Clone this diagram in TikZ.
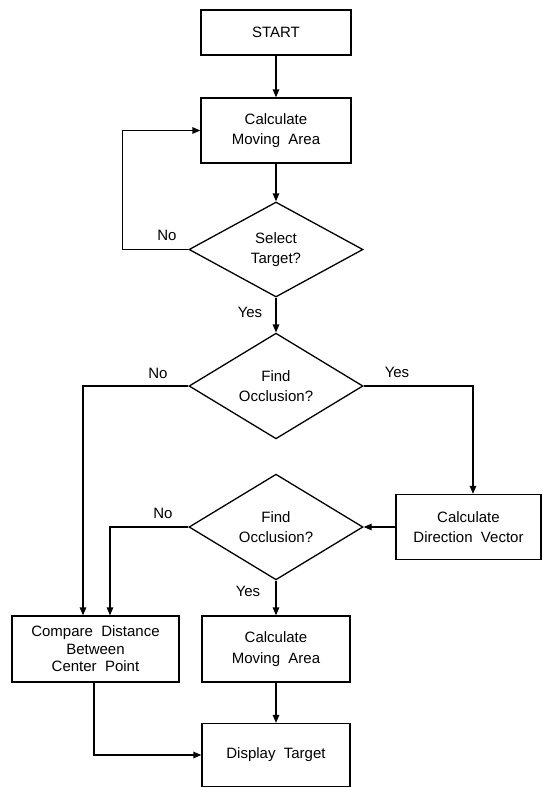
\documentclass[tikz,border=0pt]{standalone}
\usepackage{fontspec}
\setmainfont{Liberation Sans}
\usetikzlibrary{shapes.geometric,arrows.meta}

\begin{document}
\begin{tikzpicture}[x=1pt,y=-1pt,
  every node/.style={font=\fontsize{15}{20.5}\selectfont},
  box/.style={draw,line width=1.3pt,align=center,inner sep=0pt},
  decision/.style={draw,diamond,line width=1.3pt,align=center,inner sep=0pt,
    minimum width=174pt,minimum height=95pt},
  flow/.style={line width=1.3pt,-{Triangle[length=8pt,width=6.5pt]}},
  tag/.style={inner sep=0pt}]

\useasboundingbox (0,0) rectangle (543,788);

% boxes
\node[box,minimum width=150pt,minimum height=45pt] (start) at (276,32.5) {START};
\node[box,minimum width=150pt,minimum height=65pt] (cma1) at (276,130.5) {Calculate\\Moving~~Area};
\node[decision] (sel) at (276,249.5) {Select\\Target?};
\node[decision] (occ1) at (276,386) {Find\\Occlusion?};
\node[box,minimum width=145pt,minimum height=65pt] (dir) at (468.5,527) {Calculate\\Direction~~Vector};
\node[decision] (occ2) at (276,527) {Find\\Occlusion?};
\node[box,minimum width=167pt,minimum height=66pt,
  font=\fontsize{15}{17.5}\selectfont] (cmp) at (95.5,649) {Compare~~Distance\\Between\\Center~~Point};
\node[box,minimum width=148pt,minimum height=66pt] (cma2) at (276,649) {Calculate\\Moving~~Area};
\node[box,minimum width=148pt,minimum height=63pt] (disp) at (276,755) {Display~~Target};

% labels
\node[tag] (no1) at (167,235) {No};
\node[tag] (yes1) at (250,312) {Yes};
\node[tag] (no2) at (158,373) {No};
\node[tag] (yes2) at (397,372) {Yes};
\node[tag] (no3) at (163,513) {No};
\node[tag] (yes3) at (248,591) {Yes};

\draw[flow] (start) -- (cma1);
\draw[flow] (cma1) -- (sel);
\draw[flow] (sel.west) -- ++(-66,0) |- (cma1.west);
\draw[flow] (sel) -- (occ1);
\draw[flow] (occ1.west) -| ([xshift=-12.5pt]cmp.north);
\draw[flow] (occ1.east) -| ([xshift=4.5pt]dir.north);
\draw[flow] (dir) -- (occ2);
\draw[flow] (occ2.west) -| ([xshift=14.5pt]cmp.north);
\draw[flow] (occ2) -- (cma2);
\draw[flow] (cma2) -- (disp);
\draw[flow] ([xshift=-1.5pt]cmp.south) |- (disp.west);

\end{tikzpicture}
\end{document}
